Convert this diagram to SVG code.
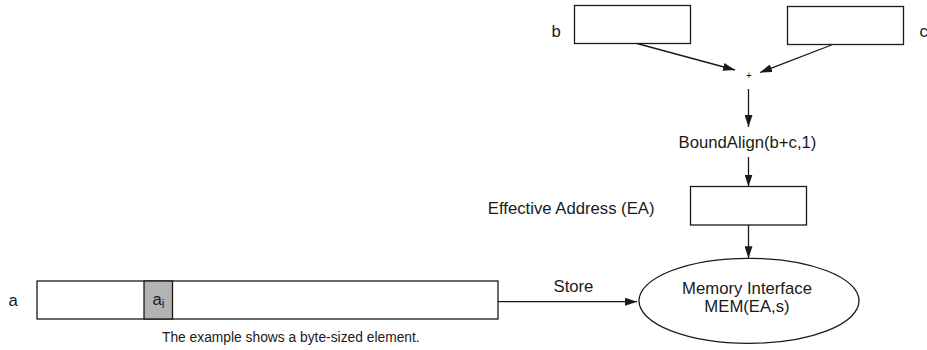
<svg xmlns="http://www.w3.org/2000/svg" width="927" height="350" viewBox="0 0 927 350">
<style>
.box{fill:#fff;stroke:#1a1a1a;stroke-width:1.3}
.cell{fill:#b3b3b3;stroke:#1a1a1a;stroke-width:1.3}
.lbl{font-family:"Liberation Sans",Arial,sans-serif;font-size:16.7px;fill:#1a1a1a}
.cap{font-family:"Liberation Sans",Arial,sans-serif;font-size:13.8px;fill:#1a1a1a}
.edge{fill:none;stroke:#1a1a1a;stroke-width:1.3;marker-end:url(#ah)}
</style>
<defs>
<marker id="ah" markerUnits="userSpaceOnUse" markerWidth="12" markerHeight="8" refX="12" refY="4" orient="auto">
<path d="M0,0 L12,4 L0,8 z" fill="#1a1a1a"/>
</marker>
</defs>
<g id="node-b">
<rect class="box" x="574.5" y="5.5" width="116" height="38"/>
<text class="lbl" x="551.5" y="36.5">b</text>
</g>
<g id="node-c">
<rect class="box" x="787.5" y="6.5" width="116" height="38"/>
<text class="lbl" x="919.5" y="36.5">c</text>
</g>
<g id="node-plus">
<text class="lbl" x="749" y="78.5" text-anchor="middle" style="font-size:10px">+</text>
</g>
<g id="node-boundalign">
<text class="lbl" x="747.5" y="147.5" text-anchor="middle">BoundAlign(b+c,1)</text>
</g>
<g id="node-ea">
<rect class="box" x="690.5" y="186.5" width="116" height="38.5"/>
<text class="lbl" x="654.5" y="213.5" text-anchor="end">Effective Address (EA)</text>
</g>
<g id="node-mem">
<ellipse class="box" cx="749" cy="300.8" rx="110" ry="42.5"/>
<text class="lbl" x="747" y="294" text-anchor="middle">Memory Interface</text>
<text class="lbl" x="747" y="311.5" text-anchor="middle">MEM(EA,s)</text>
</g>
<g id="node-a">
<rect class="box" x="37" y="281" width="461" height="38"/>
<rect class="cell" x="144" y="281" width="28.5" height="38"/>
<text class="lbl" x="152.5" y="304.5">a<tspan style="font-size:12px" dy="3">i</tspan></text>
<text class="lbl" x="8.5" y="305.5">a</text>
<text class="cap" x="162" y="342">The example shows a byte-sized element.</text>
</g>
<g id="connectors">
<line class="edge" x1="637" y1="43.5" x2="735" y2="70"/>
<line class="edge" x1="831.5" y1="45" x2="760" y2="72.5"/>
<line class="edge" x1="748.5" y1="89" x2="748.5" y2="127"/>
<line class="edge" x1="748.5" y1="157" x2="748.5" y2="186.5"/>
<line class="edge" x1="748.5" y1="225" x2="748.5" y2="258.3"/>
<line class="edge" x1="498" y1="301.7" x2="637" y2="301.7"/>
<text class="lbl" x="553.5" y="292.3">Store</text>
</g>
</svg>
